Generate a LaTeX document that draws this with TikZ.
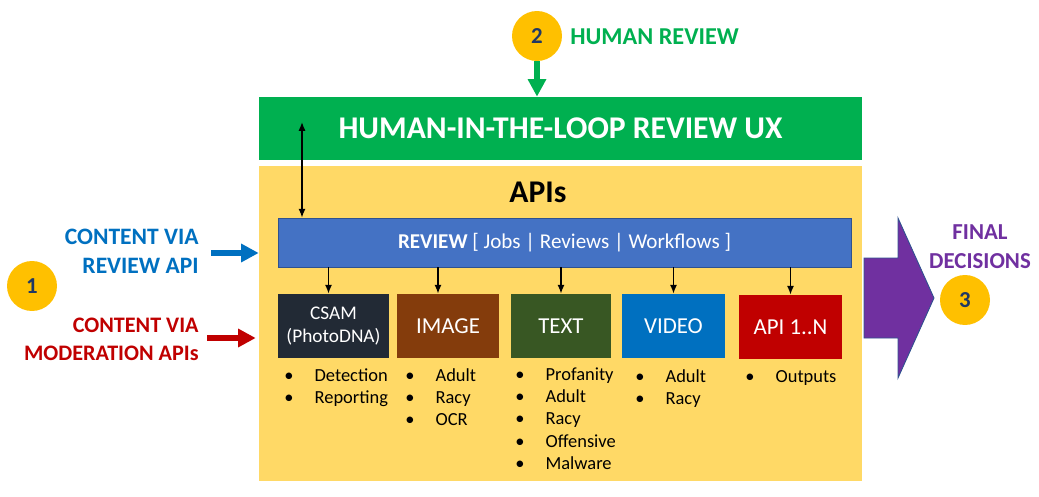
\documentclass[tikz,border=0pt]{standalone}
\usepackage{fontspec}
\setmainfont{Carlito}
\usetikzlibrary{arrows.meta,positioning,calc}

\definecolor{uxgreen}{HTML}{00B050}
\definecolor{apiyellow}{HTML}{FFD966}
\definecolor{revblue}{HTML}{4472C4}
\definecolor{revborder}{HTML}{2F528F}
\definecolor{csamgray}{HTML}{222A35}
\definecolor{imgbrown}{HTML}{843C0C}
\definecolor{txtgreen}{HTML}{385723}
\definecolor{vidblue}{HTML}{0070C0}
\definecolor{modred}{HTML}{C00000}
\definecolor{decpurple}{HTML}{7030A0}
\definecolor{numyellow}{HTML}{FFC000}
\definecolor{numnavy}{HTML}{203864}

\tikzset{
  apibox/.style={inner sep=0pt, text=white, align=center, minimum height=1.28cm,
    font=\fontsize{13}{15}\selectfont},
  itemlist/.style={anchor=base west, inner sep=0pt, font=\fontsize{10.5}{12.8}\selectfont},
  num/.style={circle, fill=numyellow, text=numnavy, minimum size=1cm, inner sep=0pt, font=\fontsize{13}{15}\selectfont\bfseries},
  sidelabel/.style={inner sep=0pt, font=\fontsize{13.4}{16.5}\selectfont\bfseries},
  fatarrow/.style={line width=3pt, -{Triangle[length=10pt,width=10pt]}},
  thinarrow/.style={line width=0.8pt, -{Latex[length=5pt,width=4pt]}}
}

\begin{document}
\begin{tikzpicture}[x=0.02cm,y=-0.02cm]
  \useasboundingbox (0,0) rectangle (1039,497);
  % UX bar and API panel
  \node[fill=uxgreen, inner sep=0pt, minimum width=12.06cm, minimum height=1.26cm, text=white,
    font=\fontsize{18}{20}\selectfont\bfseries] (ux) at (560.5,128.5) {HUMAN-IN-THE-LOOP REVIEW UX};
  \node[fill=apiyellow, inner sep=0pt, minimum width=12.06cm, minimum height=6.3cm] (apis) at (560.5,323.5) {};
  \node[font=\fontsize{18}{20}\selectfont\bfseries] (apititle) at (538,192) {APIs};
  \node[fill=revblue, draw=revborder, inner sep=0pt, minimum width=11.46cm, minimum height=0.98cm, text=white,
    font=\fontsize{12}{14}\selectfont] (review) at (564.5,242.5) {\textbf{REVIEW} [ Jobs | Reviews | Workflows ]};
  % API boxes
  \node[apibox, fill=csamgray, minimum width=2.22cm, font=\fontsize{11}{13.5}\selectfont] (csam) at (333.5,326) {CSAM\\(PhotoDNA)};
  \node[apibox, fill=imgbrown, minimum width=2.04cm] (image) at (448,326) {IMAGE};
  \node[apibox, fill=txtgreen, minimum width=2.0cm] (text) at (561,326) {TEXT};
  \node[apibox, fill=vidblue, minimum width=2.06cm] (video) at (673.5,326) {VIDEO};
  \node[apibox, fill=modred, minimum width=2.06cm] (apin) at (790.5,327) {API 1..N};
  % outputs under each box
  \node[itemlist] (csamlist) at (284,381) {\begin{tabular}[t]{@{}l@{\hspace{12pt}}l@{}}\textbullet & Detection\\ \textbullet & Reporting\end{tabular}};
  \node[itemlist] (imagelist) at (405,381) {\begin{tabular}[t]{@{}l@{\hspace{12pt}}l@{}}\textbullet & Adult\\ \textbullet & Racy\\ \textbullet & OCR\end{tabular}};
  \node[itemlist] (textlist) at (515,380) {\begin{tabular}[t]{@{}l@{\hspace{12pt}}l@{}}\textbullet & Profanity\\ \textbullet & Adult\\ \textbullet & Racy\\ \textbullet & Offensive\\ \textbullet & Malware\end{tabular}};
  \node[itemlist] (videolist) at (635,382) {\begin{tabular}[t]{@{}l@{\hspace{12pt}}l@{}}\textbullet & Adult\\ \textbullet & Racy\end{tabular}};
  \node[itemlist] (apinlist) at (745,382) {\begin{tabular}[t]{@{}l@{\hspace{12pt}}l@{}}\textbullet & Outputs\end{tabular}};
  % review bar to the boxes
  \draw[thinarrow] ($(csam.north |- review.south)+(-5,0)$) -- ($(csam.north)+(-5,0)$);
  \draw[thinarrow] ($(image.north |- review.south)+(-10,0)$) -- ($(image.north)+(-10,0)$);
  \draw[thinarrow] (text.north |- review.south) -- (text.north);
  \draw[thinarrow] (video.north |- review.south) -- (video.north);
  \draw[thinarrow] (apin.north |- review.south) -- (apin.north);
  \coordinate (uxend) at (302,122);
  \draw[line width=0.8pt, {Latex[length=5pt,width=4pt]}-{Latex[length=5pt,width=4pt]}] (uxend) -- (uxend |- review.north);
  % numbered steps
  \node[num] (one) at (32,286) {1};
  \node[num] (two) at (537,36) {2};
  \node[num] (three) at (965,300) {3};
  \node[sidelabel, text=vidblue, align=right, anchor=east] (revlabel) at (199,251) {CONTENT VIA\\REVIEW API};
  \node[sidelabel, text=modred, align=right, anchor=east, font=\fontsize{12.6}{16}\selectfont\bfseries] (modlabel) at (199,339) {CONTENT VIA\\MODERATION APIs};
  \node[sidelabel, text=uxgreen, anchor=west, font=\fontsize{13.8}{16}\selectfont\bfseries] (humanlabel) at (570,37) {HUMAN REVIEW};
  \node[sidelabel, text=decpurple, align=center, font=\fontsize{13}{16.5}\selectfont\bfseries] (finallabel) at (980,247) {FINAL\\DECISIONS};
  % inputs
  \coordinate (revin) at (211,253);
  \coordinate (modin) at (207,338);
  \draw[fatarrow, vidblue] (revin) -- (revin -| apis.west);
  \draw[fatarrow, modred] (modin) -- ($(modin -| apis.west)+(-3,0)$);
  \draw[fatarrow, uxgreen] (two) -- (ux.north -| two);
  % final decisions block arrow
  \draw[fill=decpurple, draw=revborder, line width=0.5pt] (864,258) -- (898,258) -- (898,218)
    -- (934,298) -- (898,378) -- (898,338) -- (864,338) -- cycle;
\end{tikzpicture}
\end{document}
